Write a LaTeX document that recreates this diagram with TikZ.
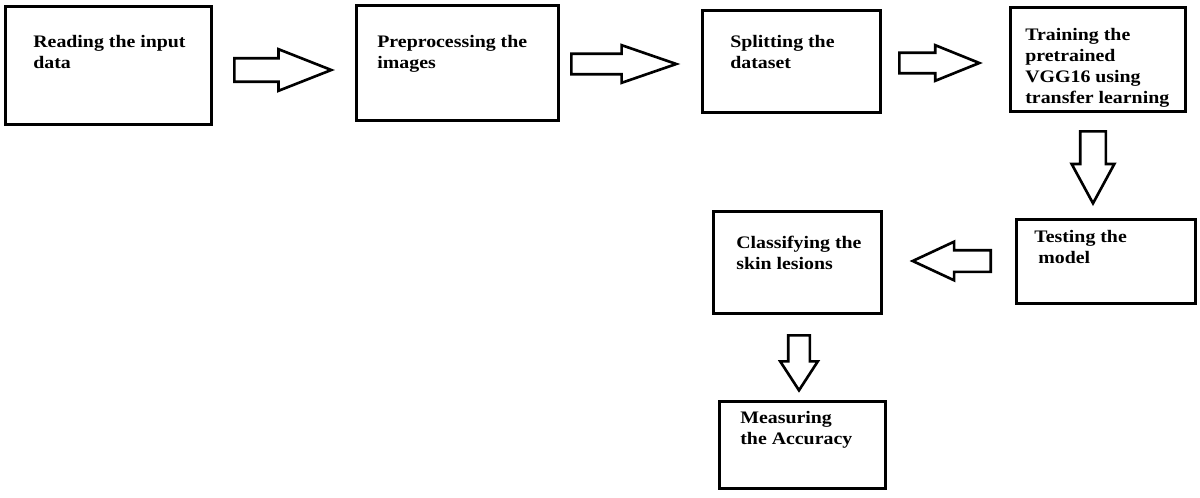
\documentclass[tikz,border=0pt]{standalone}
\usepackage{fontspec}
\setmainfont{Liberation Serif}[FakeStretch=1.13]
\usetikzlibrary{shapes.arrows}

\tikzset{
  stepbox/.style={draw,line width=1.8pt,inner sep=0pt},
  steptext/.style={anchor=north west,align=left,inner sep=0pt,font=\bfseries\fontsize{10}{11.9}\selectfont},
  blockarrow/.style={single arrow,draw,line width=1.5pt,fill=white,single arrow head indent=0pt,anchor=tail}
}

\begin{document}
\begin{tikzpicture}[x=0.02cm,y=-0.02cm]
\useasboundingbox (0,0) rectangle (1200,497);

\node [stepbox,minimum width=4.12cm,minimum height=2.36cm] (read) at (108.5,65.5) {};
\node [stepbox,minimum width=4.04cm,minimum height=2.30cm] (prep) at (457.5,63) {};
\node [stepbox,minimum width=3.56cm,minimum height=2.04cm] (split) at (791.5,61.5) {};
\node [stepbox,minimum width=3.50cm,minimum height=2.08cm] (train) at (1098,59.5) {};
\node [stepbox,minimum width=3.58cm,minimum height=1.68cm] (test) at (1106,261.5) {};
\node [stepbox,minimum width=3.36cm,minimum height=2.04cm] (classify) at (797.5,262.5) {};
\node [stepbox,minimum width=3.32cm,minimum height=1.74cm] (measure) at (802.5,445) {};

\node [steptext] (readtxt) at (33,35) {Reading the input\\data};
\node [steptext] (preptxt) at (377,35) {Preprocessing the\\images};
\node [steptext] (splittxt) at (730,35) {Splitting the\\dataset};
\node [steptext] (traintxt) at (1025,28) {Training the\\pretrained\\VGG16 using\\transfer learning};
\node [steptext] (testtxt) at (1034,230) {Testing the\\\hspace*{0.08cm}model};
\node [steptext] (classifytxt) at (736,236) {Classifying the\\skin lesions};
\node [steptext] (measuretxt) at (740,411) {Measuring\\the Accuracy};

% arrows between the steps
\node [blockarrow,minimum height=1.94cm,inner sep=0.21cm,single arrow head extend=0.18cm,single arrow tip angle=43] (readprep) at (233,70) {};
\node [blockarrow,minimum height=2.10cm,inner sep=0.18cm,single arrow head extend=0.17cm,single arrow tip angle=38] (prepsplit) at (570,64) {};
\node [blockarrow,minimum height=1.60cm,inner sep=0.18cm,single arrow head extend=0.15cm,single arrow tip angle=44] (splittrain) at (898,63) {};
\node [blockarrow,minimum height=1.44cm,inner sep=0.23cm,single arrow head extend=0.17cm,single arrow tip angle=57,rotate=-90] (traintest) at (1093,130) {};
\node [blockarrow,minimum height=1.56cm,inner sep=0.19cm,single arrow head extend=0.17cm,single arrow tip angle=50,rotate=180] (testclassify) at (992,261) {};
\node [blockarrow,minimum height=1.10cm,inner sep=0.19cm,single arrow head extend=0.16cm,single arrow tip angle=66,rotate=-90] (classifymeasure) at (799,334) {};

\end{tikzpicture}
\end{document}
